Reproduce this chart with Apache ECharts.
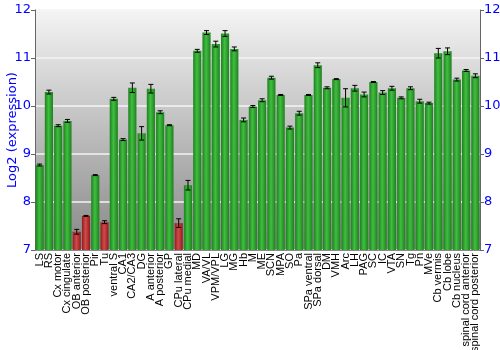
<!DOCTYPE html>
<html><head><meta charset="utf-8">
<script src="https://cdn.jsdelivr.net/npm/echarts@6/dist/echarts.min.js"></script>
<style>html,body{margin:0;padding:0;background:#fff}#c{width:500px;height:350px}</style>
</head><body><div id="c"></div>
<script>
const categories = ["LS","RS","Cx motor","Cx cingulate","OB anterior","OB posterior","Pir","Tu","ventral S","CA1","CA2/CA3","DG","A anterior","A posterior","GP","CPu lateral","CPu medial","MD","VA/VL","VPM/VPL","LG","MG","Hb","M","ME","SCN","MPA","SO","Pa","SPa ventral","SPa dorsal","DM","VMH","Arc","LH","PAG","SC","IC","VTA","SN","Tg","Pn","MVe","Cb vermis","Cb lobe","Cb nucleus","spinal cord anterior","spinal cord posterior"];
const values = [8.77,10.29,9.59,9.69,7.38,7.71,8.56,7.58,10.15,9.30,10.38,9.43,10.36,9.87,9.60,7.56,8.35,11.15,11.53,11.29,11.51,11.19,9.71,9.99,10.12,10.59,10.23,9.55,9.85,10.23,10.85,10.38,10.56,10.17,10.37,10.24,10.50,10.28,10.37,10.17,10.37,10.10,10.06,11.10,11.14,10.55,10.74,10.63];
const errors = [0.02,0.04,0.02,0.03,0.05,0.01,0.01,0.03,0.03,0.02,0.10,0.14,0.09,0.03,0.01,0.09,0.10,0.03,0.04,0.06,0.06,0.04,0.04,0.02,0.03,0.03,0.01,0.03,0.04,0.01,0.05,0.02,0.01,0.19,0.06,0.05,0.01,0.04,0.04,0.02,0.03,0.04,0.02,0.10,0.07,0.03,0.02,0.04];
const redCategories = ["OB anterior","OB posterior","Tu","CPu lateral"];
const yTicks = [7,8,9,10,11,12];

function grad(edge, mid){
  return {type:'linear',x:0,y:0,x2:1,y2:0,colorStops:[
    {offset:0,color:edge},{offset:0.45,color:mid},{offset:1,color:edge}]};
}
const greenFill = grad('#1f7f1f','#3fbf3f');
const redFill = grad('#8f1c1c','#d24a4a');

const chart = echarts.init(document.getElementById('c'));
const blue = '#0000ff';
const yCommon = {
  type:'value', min:yTicks[0], max:yTicks[yTicks.length-1], interval:1,
  axisLine:{show:true,lineStyle:{color:'#666'}},
  axisTick:{show:true,length:4,lineStyle:{color:'#666'}},
  axisLabel:{color:blue,fontSize:13,fontFamily:'DejaVu Sans',margin:4}
};
chart.setOption({
  animation:false,
  grid:{left:35,right:20,top:10,bottom:100,show:true,borderWidth:0,containLabel:false,outerBoundsMode:'none',
    backgroundColor:{type:'linear',x:0,y:0,x2:0,y2:1,colorStops:[{offset:0,color:'#f4f4f4'},{offset:1,color:'#888888'}]}},
  xAxis:{type:'category',data:categories,
    axisLine:{show:true,lineStyle:{color:'#888'}},axisTick:{show:false},
    axisLabel:{rotate:90,interval:0,color:'#000',fontSize:11,fontFamily:'Liberation Sans',margin:3}},
  yAxis:[
    Object.assign({},yCommon,{position:'left',name:'Log2 (expression)',nameLocation:'middle',nameGap:16,nameMoveOverlap:false,
      nameTextStyle:{color:blue,fontSize:13,fontFamily:'DejaVu Sans'},
      splitLine:{show:true,lineStyle:{color:'#f4f4f4',width:1.5}}}),
    Object.assign({},yCommon,{position:'right',splitLine:{show:false}})
  ],
  series:[
    {type:'bar',barCategoryGap:'12%',
      data:values.map((v,i)=>({value:v,itemStyle:{color:redCategories.includes(categories[i])?redFill:greenFill}}))},
    {type:'custom',z:5,
      data:values.map((v,i)=>[i,v-errors[i],v+errors[i]]),
      renderItem:function(params,api){
        const lo=api.coord([api.value(0),api.value(1)]);
        const hi=api.coord([api.value(0),api.value(2)]);
        const w=2.5;
        const st={stroke:'#000',lineWidth:1};
        return {type:'group',children:[
          {type:'line',shape:{x1:lo[0],y1:lo[1],x2:hi[0],y2:hi[1]},style:st},
          {type:'line',shape:{x1:lo[0]-w,y1:lo[1],x2:lo[0]+w,y2:lo[1]},style:st},
          {type:'line',shape:{x1:hi[0]-w,y1:hi[1],x2:hi[0]+w,y2:hi[1]},style:st}
        ]};
      }}
  ]
});
</script></body></html>
